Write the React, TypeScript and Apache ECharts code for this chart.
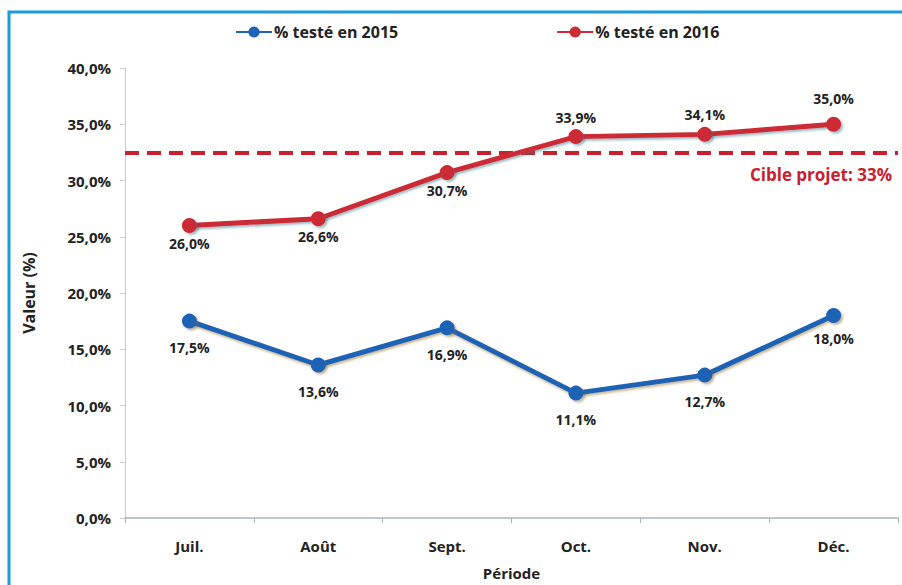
import React, { useEffect, useRef } from "react";
import * as echarts from "echarts";

const categories = ["Juil.", "Août", "Sept.", "Oct.", "Nov.", "Déc."];
const values2015 = [17.5, 13.6, 16.9, 11.1, 12.7, 18.0];
const values2016 = [26.0, 26.6, 30.7, 33.9, 34.1, 35.0];
const labelPos2015 = ["bottom", "bottom", "bottom", "bottom", "bottom", "bottom"];
const labelPos2016 = ["bottom", "bottom", "bottom", "top", "top", "top"];
const targetValue = 32.5;
const targetLabel = "Cible projet: 33%";
const seriesNames = ["% testé en 2015", "% testé en 2016"];

const FONT = "'Open Sans', 'Noto Sans', sans-serif";
const fmt = (v: number) => v.toFixed(1).replace(".", ",") + "%";

export default function App() {
  const ref = useRef<HTMLDivElement>(null);
  useEffect(() => {
    if (!ref.current) return;
    const chart = echarts.init(ref.current, undefined, { renderer: "svg" });
    const blue = "#1F63B6";
    const red = "#CC2B36";
    const mk = (vals: number[], pos: string[], dists: number[]) =>
      vals.map((v, i) => ({
        value: v,
        label: { position: pos[i], distance: dists[i] },
      }));
    const labelStyle = {
      show: true,
      formatter: (p: any) => fmt(p.value),
      fontFamily: FONT,
      fontWeight: "bold",
      fontSize: 14,
      color: "#222",
    };
    chart.setOption({
      animation: false,
      backgroundColor: "#fff",
      graphic: [
        {
          type: "rect",
          shape: { x: 9, y: 12, width: 1000, height: 1000 },
          style: { fill: "none", stroke: "#1B9BD7", lineWidth: 3 },
          z: 100,
        },
      ],
      legend: {
        top: 19,
        left: 230,
        itemGap: 158,
        itemWidth: 36,
        itemHeight: 14,
        textStyle: { fontFamily: FONT, fontWeight: "bold", fontSize: 16, color: "#222", padding: [0, 0, 0, -3] },
        data: seriesNames,
      },
      grid: { left: 125, right: 4, top: 68, bottom: 65, containLabel: false },
      xAxis: {
        type: "category",
        data: categories,
        boundaryGap: true,
        name: "Période",
        nameLocation: "middle",
        nameGap: 47,
        nameTextStyle: { fontFamily: FONT, fontWeight: "bold", fontSize: 15, color: "#222" },
        axisLine: { lineStyle: { color: "#A9B4B8", width: 1.5 } },
        axisTick: { show: true, length: 5, lineStyle: { color: "#A9B4B8" } },
        axisLabel: { fontFamily: FONT, fontWeight: "bold", fontSize: 15, color: "#222", margin: 20 },
      },
      yAxis: {
        type: "value",
        min: 0,
        max: 40,
        interval: 5,
        name: "Valeur (%)",
        nameLocation: "middle",
        nameGap: 88,
        nameRotate: 90,
        nameTextStyle: { fontFamily: FONT, fontWeight: "bold", fontSize: 16, color: "#222" },
        axisLine: { show: true, lineStyle: { color: "#C5CED2", width: 1 } },
        axisTick: { show: true, length: 5, lineStyle: { color: "#C5CED2" } },
        splitLine: { show: false },
        axisLabel: {
          fontFamily: FONT,
          fontWeight: "bold",
          fontSize: 15,
          color: "#222",
          margin: 14,
          formatter: (v: number) => fmt(v),
        },
      },
      series: [
        {
          name: seriesNames[0],
          type: "line",
          data: mk(values2015, labelPos2015, [12, 12, 12, 12, 12, 8]),
          symbol: "circle",
          symbolSize: 15,
          itemStyle: { color: blue, shadowColor: "rgba(120,100,40,0.45)", shadowBlur: 2, shadowOffsetX: 2, shadowOffsetY: 2 },
          lineStyle: { color: blue, width: 5, shadowColor: "rgba(150,120,40,0.5)", shadowBlur: 2, shadowOffsetX: 1, shadowOffsetY: 2 },
          label: labelStyle,
          z: 3,
        },
        {
          name: seriesNames[1],
          type: "line",
          data: mk(values2016, labelPos2016, [3, 3, 3, 5, 5, 11]),
          symbol: "circle",
          symbolSize: 15,
          itemStyle: { color: red, shadowColor: "rgba(40,110,130,0.45)", shadowBlur: 2, shadowOffsetX: 2, shadowOffsetY: 2 },
          lineStyle: { color: red, width: 5, shadowColor: "rgba(40,110,130,0.45)", shadowBlur: 2, shadowOffsetX: 1, shadowOffsetY: 2 },
          label: labelStyle,
          z: 3,
          markLine: {
            silent: true,
            symbol: "none",
            data: [{ yAxis: targetValue }],
            lineStyle: { color: "#C8202E", width: 4, type: [14, 8] },
            label: {
              show: true,
              position: "insideEndBottom",
              formatter: targetLabel,
              fontFamily: FONT,
              fontWeight: "bold",
              fontSize: 17,
              color: "#C8202E",
              distance: [6, 14],
            },
            z: 2,
          },
        },
      ],
    });
    return () => chart.dispose();
  }, []);
  return (
    <div
      ref={ref}
      style={{ position: "fixed", left: 0, top: 0, width: 902, height: 585 }}
    />
  );
}
